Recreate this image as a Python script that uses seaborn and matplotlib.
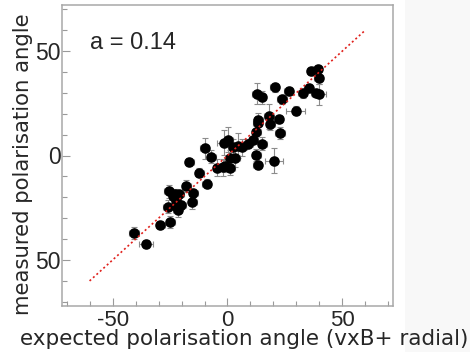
import matplotlib
matplotlib.use("Agg")
import matplotlib.pyplot as plt
from matplotlib.patches import Rectangle
from matplotlib.ticker import MultipleLocator, FixedLocator
import numpy as np
import pandas as pd
import seaborn as sns

# ---- data ----
expected = [-40.7, -35.4, -29.2, -24.9, -26.0, -22.3, -20.1, -21.6, -22.5, -23.5,
            -25.5, -23.0, -20.9, -18.0, -14.8, -15.4, -16.7, -12.3, -9.0, -10.0,
            -7.1, -4.4, -2.0, -1.0, 1.2, 0.9, 3.3, -1.5, 0.3, 2.3,
            4.5, 6.4, 8.9, 11.2, 12.5, 13.2, 15.1, 12.6, 13.4, 13.2,
            18.7, 17.9, 22.3, 22.8, 20.1, 12.7, 14.8, 20.6, 23.7, 26.6,
            29.6, 32.8, 35.3, 36.4, 39.3, 39.7, 38.3, 39.7]
measured = [-37.1, -42.2, -33.2, -31.8, -24.4, -24.3, -23.8, -26.2, -21.5, -19.5,
            -17.2, -18.2, -18.5, -14.6, -17.8, -22.4, -3.0, -8.2, -13.4, 3.4,
            -0.6, -5.9, -5.6, -5.0, -6.2, -1.4, -1.4, 6.2, 7.5, 3.9,
            4.6, 3.9, 5.7, 7.3, 0.2, -4.6, 5.7, 11.4, 17.2, 15.7,
            15.0, 18.7, 17.4, 10.7, -2.6, 29.6, 27.8, 32.6, 26.8, 30.8,
            21.5, 29.7, 32.4, 40.3, 41.2, 37.3, 29.9, 29.2]
expected_err = [2, 3, 2, 2, 2, 2, 2, 2, 2, 2,
                2, 2, 2, 2, 2, 2, 2, 2, 2, 2,
                2, 2, 2, 2, 2, 2, 2, 3, 2, 2,
                2, 2, 2, 2, 2, 2, 2, 2, 2, 2,
                2, 2, 2, 2, 4, 2, 2, 2, 2, 2,
                4, 2, 2, 2, 2, 2, 2, 3]
measured_err = [3, 2, 2, 3, 3, 2, 2, 3, 2, 2,
                3, 2, 2, 3, 2, 3, 2, 2, 2, 5,
                3, 4, 4, 3, 3, 4, 4, 6, 6, 4,
                6, 4, 2, 2, 3, 2, 3, 6, 3, 3,
                3, 6, 2, 3, 6, 5, 3, 2, 2, 2,
                2, 2, 2, 2, 2, 3, 2, 5]

fit_x = [-60, 60]
fit_y = [-60, 60]

x_ticks = [-50, 0, 50]
x_tick_labels = ["-50", "0", "50"]
y_ticks = [-50, 0, 50]
y_tick_labels = ["50", "0", "50"]

x_label = "expected polarisation angle (vxB+ radial)"
y_label = "measured polarisation angle"
annotation = "a = 0.14"

df = pd.DataFrame({"expected": expected, "measured": measured,
                   "xerr": expected_err, "yerr": measured_err})

sns.set_style("white")
plt.rcParams["font.family"] = ["DejaVu Sans"]

fig = plt.figure(figsize=(4.7, 3.52), dpi=100)
fig.patches.append(Rectangle((405 / 470, 0.0), 65 / 470, 1.0,
                             transform=fig.transFigure, facecolor="#f8f8f8",
                             edgecolor="none", zorder=-10))

ax = fig.add_axes([62 / 470, 1 - 306 / 352, 331 / 470, 301 / 352])
ax.set_facecolor("white")

ax.errorbar(df["expected"], df["measured"], xerr=df["xerr"], yerr=df["yerr"],
            fmt="none", ecolor="#8c8c8c", elinewidth=0.8, capsize=2,
            capthick=0.8, zorder=2)
sns.scatterplot(data=df, x="expected", y="measured", ax=ax, color="black",
                s=58, edgecolor="black", linewidth=0, zorder=3, legend=False)
ax.plot(fit_x, fit_y, color="#e0201b", linestyle=(0, (1.2, 1.6)),
        linewidth=1.2, zorder=4)

ax.set_xlim(-72, 72)
ax.set_ylim(-72, 72)
ax.xaxis.set_major_locator(FixedLocator(x_ticks))
ax.yaxis.set_major_locator(FixedLocator(y_ticks))
ax.xaxis.set_minor_locator(MultipleLocator(10))
ax.yaxis.set_minor_locator(MultipleLocator(10))
ax.set_xticklabels(x_tick_labels, family="Liberation Sans", fontsize=16)
ax.set_yticklabels(y_tick_labels, family="Liberation Sans", fontsize=16.5)
ax.tick_params(which="both", direction="in", color="#9a9a9a", width=0.8,
               top=False, right=False, bottom=True, left=True)
ax.tick_params(which="major", length=6)
ax.tick_params(which="minor", length=3.5)
ax.tick_params(axis="x", pad=3)
ax.tick_params(axis="y", pad=1)
for sp in ax.spines.values():
    sp.set_color("#a8a8a8")
    sp.set_linewidth(1.1)
ax.set_xlabel("")
ax.set_ylabel("")

ax.text(-60, 54, annotation, family="Liberation Sans", fontsize=17,
        va="center", ha="left")

fig.text(244 / 470, 1 - 339 / 352, x_label, fontsize=15.5,
         ha="center", va="center")
fig.text(23 / 470, 1 - 164 / 352, y_label, fontsize=15.3, rotation=90,
         ha="center", va="center")

fig.savefig("out.png", dpi=100, facecolor="white")
